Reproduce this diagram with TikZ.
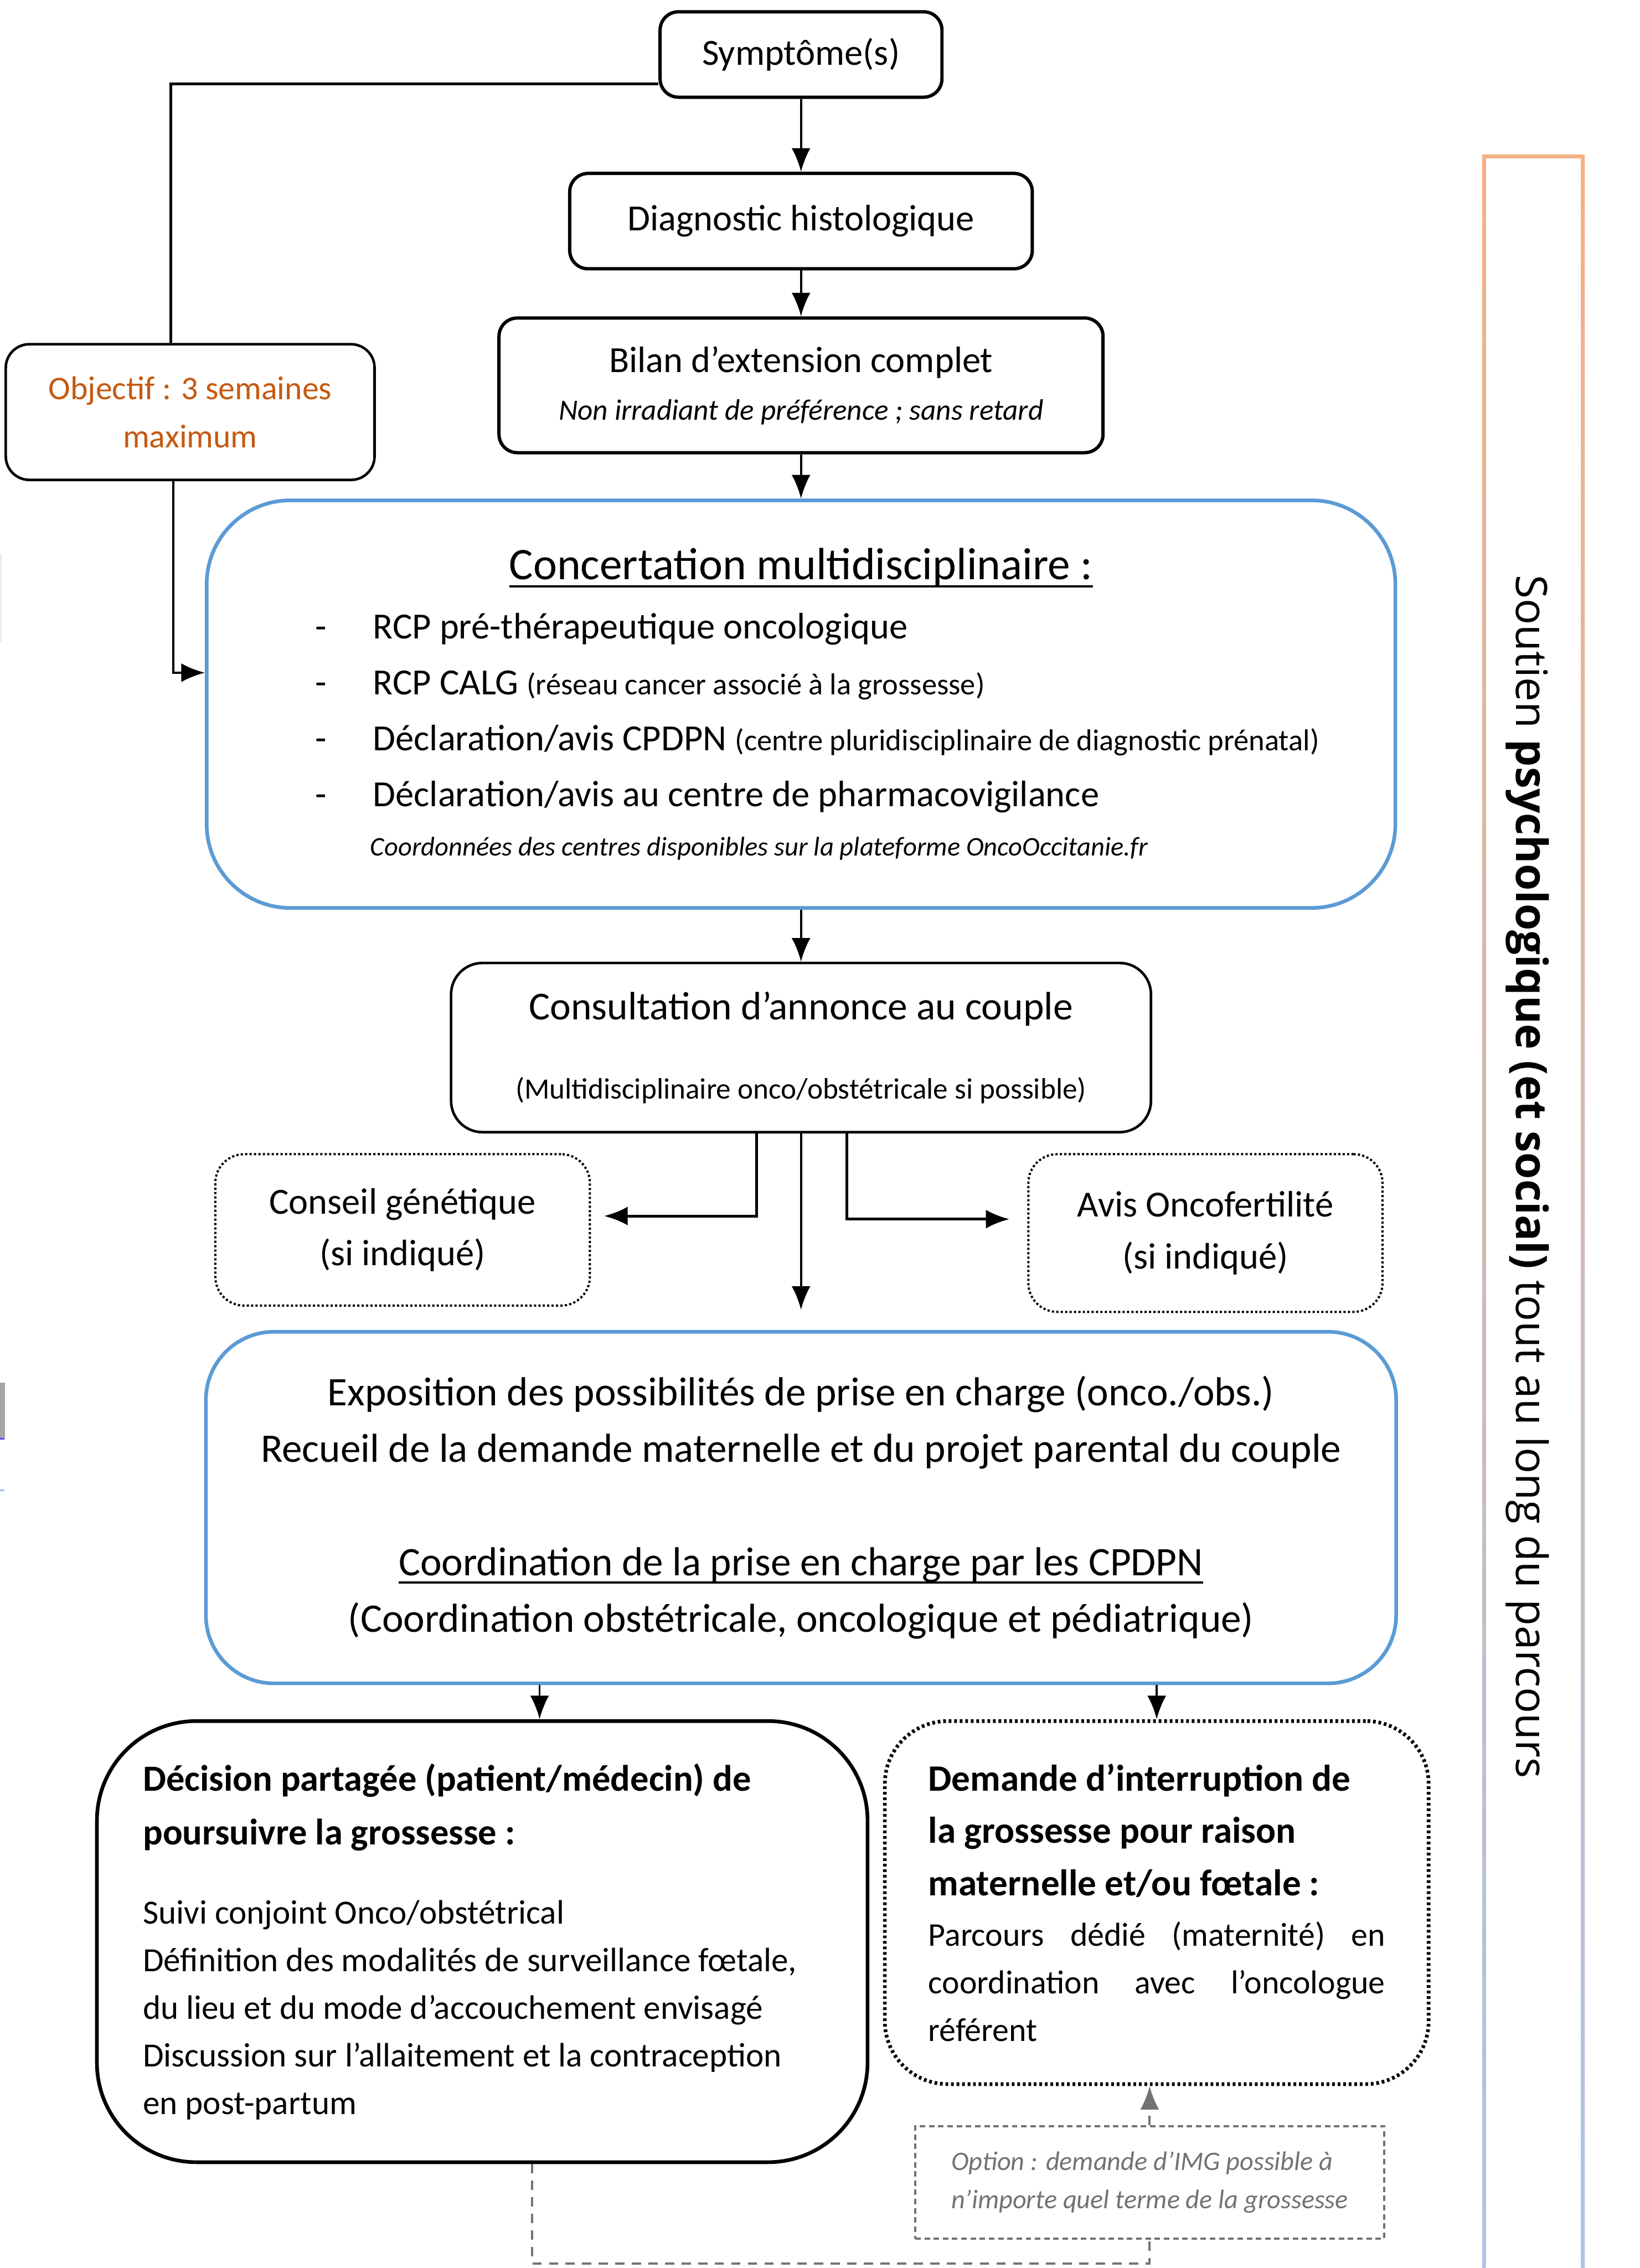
\documentclass[tikz,border=0pt]{standalone}
\usepackage{fontspec}
\setmainfont{Carlito}
\newfontfamily\opensans{Open Sans}
\usetikzlibrary{arrows.meta}
\definecolor{cblue}{HTML}{5B9BD5}
\definecolor{corange}{HTML}{C55A11}
\definecolor{cgrey}{HTML}{767171}
\definecolor{sorange}{HTML}{F4B183}
\definecolor{sblue}{HTML}{ADC3E8}
\newcommand{\fs}[2]{\fontsize{#1}{#2}\selectfont}
\newcommand{\nsp}{\spaceskip=0pt\xspaceskip=0pt\relax}
\newsavebox{\ulinebox}
\newcommand{\ulined}[1]{\sbox{\ulinebox}{#1}\rlap{\rule[-4.3pt]{\wd\ulinebox}{1.3pt}}\usebox{\ulinebox}}

\begin{document}
\begin{tikzpicture}[line width=1.1pt, >={Latex[length=0.45cm,width=0.36cm]},
    blackbox/.style={draw, line width=1.8pt, rounded corners=0.35cm, align=center},
    bluebox/.style={draw=cblue, line width=2pt, align=center},
    dotbox/.style={draw, line width=1.2pt, dash pattern=on 1.2pt off 1.2pt, rounded corners=0.55cm, align=center},
    greybox/.style={draw=cgrey, line width=1.2pt, dash pattern=on 3pt off 2pt, align=left},
    greyline/.style={draw=cgrey, line width=1.2pt, dash pattern=on 5pt off 4pt}]
    \useasboundingbox (0,0) rectangle (31.30,-43.29);
    % bords coupes
    \fill[black!8] (0,-10.57) rectangle (0.03,-12.27);
    \fill[black!35] (0,-26.39) rectangle (0.09,-27.45);
    \fill[blue!70] (0,-27.45) rectangle (0.08,-27.48);
    \fill[cblue!60] (0,-28.43) rectangle (0.08,-28.46);
    % soutien
    \shade[top color=sorange, bottom color=sblue] (28.29,-2.95) rectangle (28.36,-43.29);
    \shade[top color=sorange, bottom color=sblue] (30.18,-2.95) rectangle (30.25,-43.29);
    \fill[sorange] (28.29,-2.95) rectangle (30.25,-3.02);
    \node[rotate=-90, font=\opensans\fs{23.5}{28}] (soutien) at (29.16,-22.46)
        {Soutien \textbf{psychologique (et social)} tout au long du parcours};
    % parcours
    \node[blackbox, minimum width=5.38cm, minimum height=1.63cm, font=\fs{20}{26}] (sym) at (15.29,-1.04) {Symptôme(s)};
    \node[blackbox, minimum width=8.83cm, minimum height=1.82cm, font=\fs{20}{26}] (diag) at (15.29,-4.22) {Diagnostic histologique};
    \node[blackbox, minimum width=11.53cm, minimum height=2.57cm, font=\fs{20}{25.9}] (bilan) at (15.29,-7.355)
        {Bilan d’extension complet\\{\fs{16}{25.9}\itshape Non irradiant de préférence ; sans retard}};
    \node[blackbox, line width=1.4pt, rounded corners=0.45cm, minimum width=7.04cm, minimum height=2.59cm,
        text=corange, font=\fs{18}{26.1}] (obj) at (3.63,-7.865) {Objectif : 3 semaines\\maximum};
    \node[bluebox, rounded corners=1.6cm, minimum width=22.69cm, minimum height=7.78cm, text width=21cm,
        align=left, font=\fs{20}{30.4}] (conc) at (15.29,-13.44) {\nsp
        \makebox[\linewidth][c]{\fs{24.5}{30.4}\ulined{Concertation multidisciplinaire :}}\\[1.6pt]
        \hspace*{1.23cm}\makebox[1.1cm][l]{-}RCP pré-thérapeutique oncologique\\
        \hspace*{1.23cm}\makebox[1.1cm][l]{-}RCP CALG {\fs{16.4}{30.4}(réseau cancer associé à la grossesse)}\\
        \hspace*{1.23cm}\makebox[1.1cm][l]{-}Déclaration/avis CPDPN {\fs{16.4}{30.4}(centre pluridisciplinaire de diagnostic prénatal)}\\
        \hspace*{1.23cm}\makebox[1.1cm][l]{-}Déclaration/avis au centre de pharmacovigilance\\[-3.7pt]
        \hspace*{2.28cm}{\fs{14.6}{30.4}\itshape Coordonnées des centres disponibles sur la plateforme OncoOccitanie.fr}};
    \node[blackbox, line width=1.4pt, rounded corners=0.6cm, minimum width=13.36cm, minimum height=3.23cm,
        font=\fs{21.5}{26}] (cons) at (15.29,-19.995)
        {Consultation d’annonce au couple\\[17pt]{\fs{16}{26}(Multidisciplinaire onco/obstétricale si possible)}};
    \node[dotbox, minimum width=7.15cm, minimum height=2.89cm, font=\fs{20}{28.2}] (conseil) at (7.685,-23.475)
        {Conseil génétique\\(si indiqué)};
    \node[dotbox, minimum width=6.76cm, minimum height=3.01cm, font=\fs{20}{28.2}] (avis) at (23.01,-23.535)
        {Avis Oncofertilité\\(si indiqué)};
    \node[bluebox, rounded corners=1.3cm, minimum width=22.72cm, minimum height=6.71cm, font=\fs{22}{30.7}] (expo) at (15.29,-28.775)
        {Exposition des possibilités de prise en charge (onco./obs.)\\
        Recueil de la demande maternelle et du projet parental du couple\\[31pt]
        \ulined{Coordination de la prise en charge par les CPDPN}\\
        (Coordination obstétricale, oncologique et pédiatrique)};
    % issues
    \node[blackbox, line width=2pt, rounded corners=1.9cm, minimum width=14.71cm, minimum height=8.42cm,
        text width=12.95cm, align=left, font=\fs{18.4}{25.9}] (deci) at (9.205,-37.06)
        {\nsp{\bfseries\fs{20}{25.9}Décision partagée (patient/médecin) de\\[3.4pt]poursuivre la grossesse :}\\[17pt]
        Suivi conjoint Onco/obstétrical\\
        Définition des modalités de surveillance fœtale,\\
        du lieu et du mode d’accouchement envisagé\\
        Discussion sur l’allaitement et la contraception\\
        en post-partum};
    \node[draw, line width=2pt, dash pattern=on 1.5pt off 1.5pt, rounded corners=1.2cm, minimum width=10.38cm,
        minimum height=6.93cm, text width=8.72cm, align=left, font=\fs{18}{25.9}] (dem) at (22.08,-36.315)
        {\nsp{\bfseries\fs{20.2}{25.9}Demande d’interruption de\\[2.6pt]la grossesse pour raison\\[2.6pt]maternelle et/ou fœtale :}\\[1.4pt]
        \makebox[\linewidth][s]{Parcours dédié (maternité) en}\\
        \makebox[\linewidth][s]{coordination avec l’oncologue}\\
        référent};
    \node[greybox, minimum width=8.95cm, minimum height=2.15cm, text=cgrey, font=\fs{14.5}{20.5}\itshape] (opt) at (21.945,-41.655)
        {Option : demande d’IMG possible à\\n’importe quel terme de la grossesse};
    % fleches
    \draw[->] (sym) -- (diag);
    \draw[->] (diag) -- (bilan);
    \draw[->] (bilan) -- (conc);
    \draw[->] (conc) -- (cons);
    \draw[line width=1.3pt] ([yshift=-0.56cm]sym.west) -| ([xshift=-0.37cm]obj.north);
    \draw[->] ([xshift=-0.32cm]obj.south) |- ([yshift=0.6cm]conc.west);
    \coordinate (consend) at (15.29,-25.0);
    \draw[->] (cons) -- (consend);
    \draw[->, line width=1.5pt] ([xshift=-0.85cm]cons.south) |- ([xshift=0.25cm,yshift=0.265cm]conseil.east);
    \draw[->, line width=1.5pt] ([xshift=0.88cm]cons.south) |- ([xshift=-0.34cm,yshift=0.265cm]avis.west);
    \coordinate (decitop) at ([xshift=1.095cm]deci.north);
    \draw[->] (decitop |- expo.south) -- (decitop);
    \draw[->] (dem.north |- expo.south) -- (dem.north);
    \draw[greyline, ->, cgrey] (opt.north) -- (opt.north |- dem.south);
    \coordinate (loopbot) at (0,-43.2);
    \draw[greyline] ([xshift=0.955cm]deci.south) |- (loopbot -| opt.south) -- (opt.south);
\end{tikzpicture}
\end{document}
